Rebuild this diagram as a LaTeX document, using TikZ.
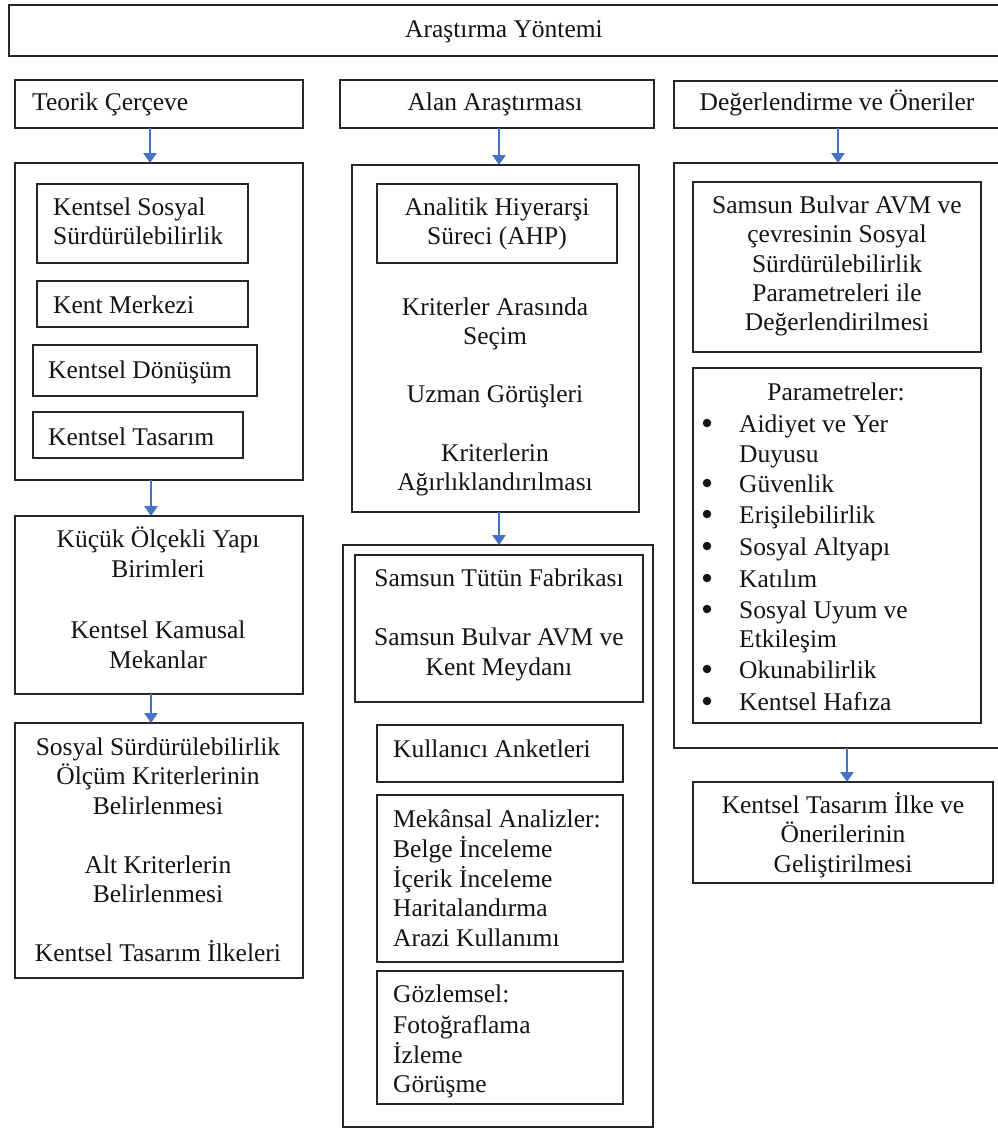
\documentclass[tikz,border=0pt]{standalone}
\usepackage{fontspec}
\setmainfont{Liberation Serif}
\usetikzlibrary{arrows.meta}
\definecolor{arrowblue}{HTML}{4472C4}
\definecolor{boxline}{HTML}{262626}
\newcommand{\mybox}[5]{\node[boxst, minimum width={#4-#2}, minimum height={#5-#3}] (#1) at ({(#2+#4)/2},{(#3+#5)/2}) {};}
\newcommand{\ctext}[4]{\node[txt, anchor=base] (#1) at (#2,#3) {#4};}
\newcommand{\ltext}[4]{\node[txt, anchor=base west] (#1) at (#2,#3) {#4};}
\newcommand{\bulat}[2]{\node[bul] (#1) at (707,{#2-9}) {};}
\begin{document}
\begin{tikzpicture}[x=1pt,y=-1pt,
  boxst/.style={draw=boxline, line width=1.5pt, rectangle, inner sep=0pt, outer sep=0pt},
  txt/.style={font=\fontsize{25.5}{30}\selectfont, inner sep=0pt, text=black!92},
  bul/.style={circle, fill=black!92, minimum size=8.5pt, inner sep=0pt},
  arr/.style={draw=arrowblue, line width=2.8pt, -{Triangle[length=10pt,width=13pt]}}]
\useasboundingbox (0,0) rectangle (998,1128);
\clip (0,0) rectangle (998,1128);
\fill[white] (0,0) rectangle (998,1128);

% top
\mybox{top}{9}{5}{1010}{56}
\ctext{ttop}{504}{37}{Araştırma Yöntemi}

% headers
\mybox{teorik}{15}{80}{303}{128}
\ltext{tteorik}{32}{110}{Teorik Çerçeve}
\mybox{alan}{340}{80}{654}{128}
\ctext{talan}{495}{110}{Alan Araştırması}
\mybox{deger}{674}{81}{1010}{128}
\ctext{tdeger}{837}{110}{Değerlendirme ve Öneriler}

% left column
\mybox{leftbig}{15}{163}{303}{480}
\mybox{kss}{37}{184}{248}{263}
\ltext{tkss1}{53}{215}{Kentsel Sosyal}
\ltext{tkss2}{53}{244}{Sürdürülebilirlik}
\mybox{merkez}{37}{281}{248}{327}
\ltext{tmerkez}{53}{313}{Kent Merkezi}
\mybox{donusum}{33}{345}{257}{396}
\ltext{tdonusum}{48}{378}{Kentsel Dönüşüm}
\mybox{tasarim}{33}{412}{243}{458}
\ltext{ttasarim}{48}{445}{Kentsel Tasarım}

\mybox{kucuk}{15}{516}{303}{694}
\ctext{tk1}{158}{547}{Küçük Ölçekli Yapı}
\ctext{tk2}{158}{577}{Birimleri}
\ctext{tk3}{158}{638}{Kentsel Kamusal}
\ctext{tk4}{158}{668}{Mekanlar}

\mybox{sosyal}{15}{723}{303}{978}
\ctext{ts1}{158}{755}{Sosyal Sürdürülebilirlik}
\ctext{ts2}{158}{784}{Ölçüm Kriterlerinin}
\ctext{ts3}{158}{814}{Belirlenmesi}
\ctext{ts4}{158}{873}{Alt Kriterlerin}
\ctext{ts5}{158}{902}{Belirlenmesi}
\ctext{ts6}{158}{961}{Kentsel Tasarım İlkeleri}

% middle column
\mybox{midbig}{352}{165}{639}{512}
\mybox{ahp}{377}{184}{617}{263}
\ctext{tahp1}{497}{215}{Analitik Hiyerarşi}
\ctext{tahp2}{497}{244}{Süreci (AHP)}
\ctext{tm1}{495}{315}{Kriterler Arasında}
\ctext{tm2}{495}{344}{Seçim}
\ctext{tm3}{495}{402}{Uzman Görüşleri}
\ctext{tm4}{495}{461}{Kriterlerin}
\ctext{tm5}{495}{490}{Ağırlıklandırılması}

\mybox{midbig2}{343}{545}{653}{1127}
\mybox{samsun}{355}{555}{643}{702}
\ctext{tsa1}{499}{586}{Samsun Tütün Fabrikası}
\ctext{tsa2}{499}{645}{Samsun Bulvar AVM ve}
\ctext{tsa3}{499}{675}{Kent Meydanı}
\mybox{kullanici}{377}{725}{623}{782}
\ltext{tku}{393}{757}{Kullanıcı Anketleri}
\mybox{mekansal}{377}{795}{623}{962}
\ltext{tme1}{393}{827}{Mekânsal Analizler:}
\ltext{tme2}{393}{857}{Belge İnceleme}
\ltext{tme3}{393}{887}{İçerik İnceleme}
\ltext{tme4}{393}{916}{Haritalandırma}
\ltext{tme5}{393}{946}{Arazi Kullanımı}
\mybox{gozlem}{377}{971}{623}{1104}
\ltext{tgo1}{393}{1002}{Gözlemsel:}
\ltext{tgo2}{393}{1033}{Fotoğraflama}
\ltext{tgo3}{393}{1063}{İzleme}
\ltext{tgo4}{393}{1092}{Görüşme}

% right column
\mybox{rightbig}{674}{163}{1010}{748}
\mybox{bulvar}{693}{182}{981}{352}
\ctext{tb1}{837}{213}{Samsun Bulvar AVM ve}
\ctext{tb2}{837}{242}{çevresinin Sosyal}
\ctext{tb3}{837}{272}{Sürdürülebilirlik}
\ctext{tb4}{837}{301}{Parametreleri ile}
\ctext{tb5}{837}{330}{Değerlendirilmesi}
\mybox{param}{693}{368}{981}{723}
\ctext{tp0}{836}{400}{Parametreler:}
\bulat{bp1}{432}
\ltext{tp1}{739}{432}{Aidiyet ve Yer}
\ltext{tp1b}{739}{462}{Duyusu}
\bulat{bp2}{492}
\ltext{tp2}{739}{492}{Güvenlik}
\bulat{bp3}{523}
\ltext{tp3}{739}{523}{Erişilebilirlik}
\bulat{bp4}{555}
\ltext{tp4}{739}{555}{Sosyal Altyapı}
\bulat{bp5}{587}
\ltext{tp5}{739}{587}{Katılım}
\bulat{bp6}{618}
\ltext{tp6}{739}{618}{Sosyal Uyum ve}
\ltext{tp6b}{739}{647}{Etkileşim}
\bulat{bp7}{678}
\ltext{tp7}{739}{678}{Okunabilirlik}
\bulat{bp8}{710}
\ltext{tp8}{739}{710}{Kentsel Hafıza}

\mybox{ilke}{693}{782}{993}{883}
\ctext{ti1}{843}{813}{Kentsel Tasarım İlke ve}
\ctext{ti2}{843}{842}{Önerilerinin}
\ctext{ti3}{843}{872}{Geliştirilmesi}

% arrows
\coordinate (ax1) at (150,0);
\coordinate (ax2) at (499,0);
\coordinate (ax3) at (838,0);
\coordinate (ax4) at (151,0);
\coordinate (ax5) at (847,0);
\draw[arr] (teorik.south -| ax1) -- (leftbig.north -| ax1);
\draw[arr] (alan.south -| ax2) -- (midbig.north -| ax2);
\draw[arr] (deger.south -| ax3) -- (rightbig.north -| ax3);
\draw[arr] (leftbig.south -| ax4) -- (kucuk.north -| ax4);
\draw[arr] (kucuk.south -| ax4) -- (sosyal.north -| ax4);
\draw[arr] (midbig.south -| ax2) -- (midbig2.north -| ax2);
\draw[arr] (rightbig.south -| ax5) -- (ilke.north -| ax5);
\end{tikzpicture}
\end{document}
